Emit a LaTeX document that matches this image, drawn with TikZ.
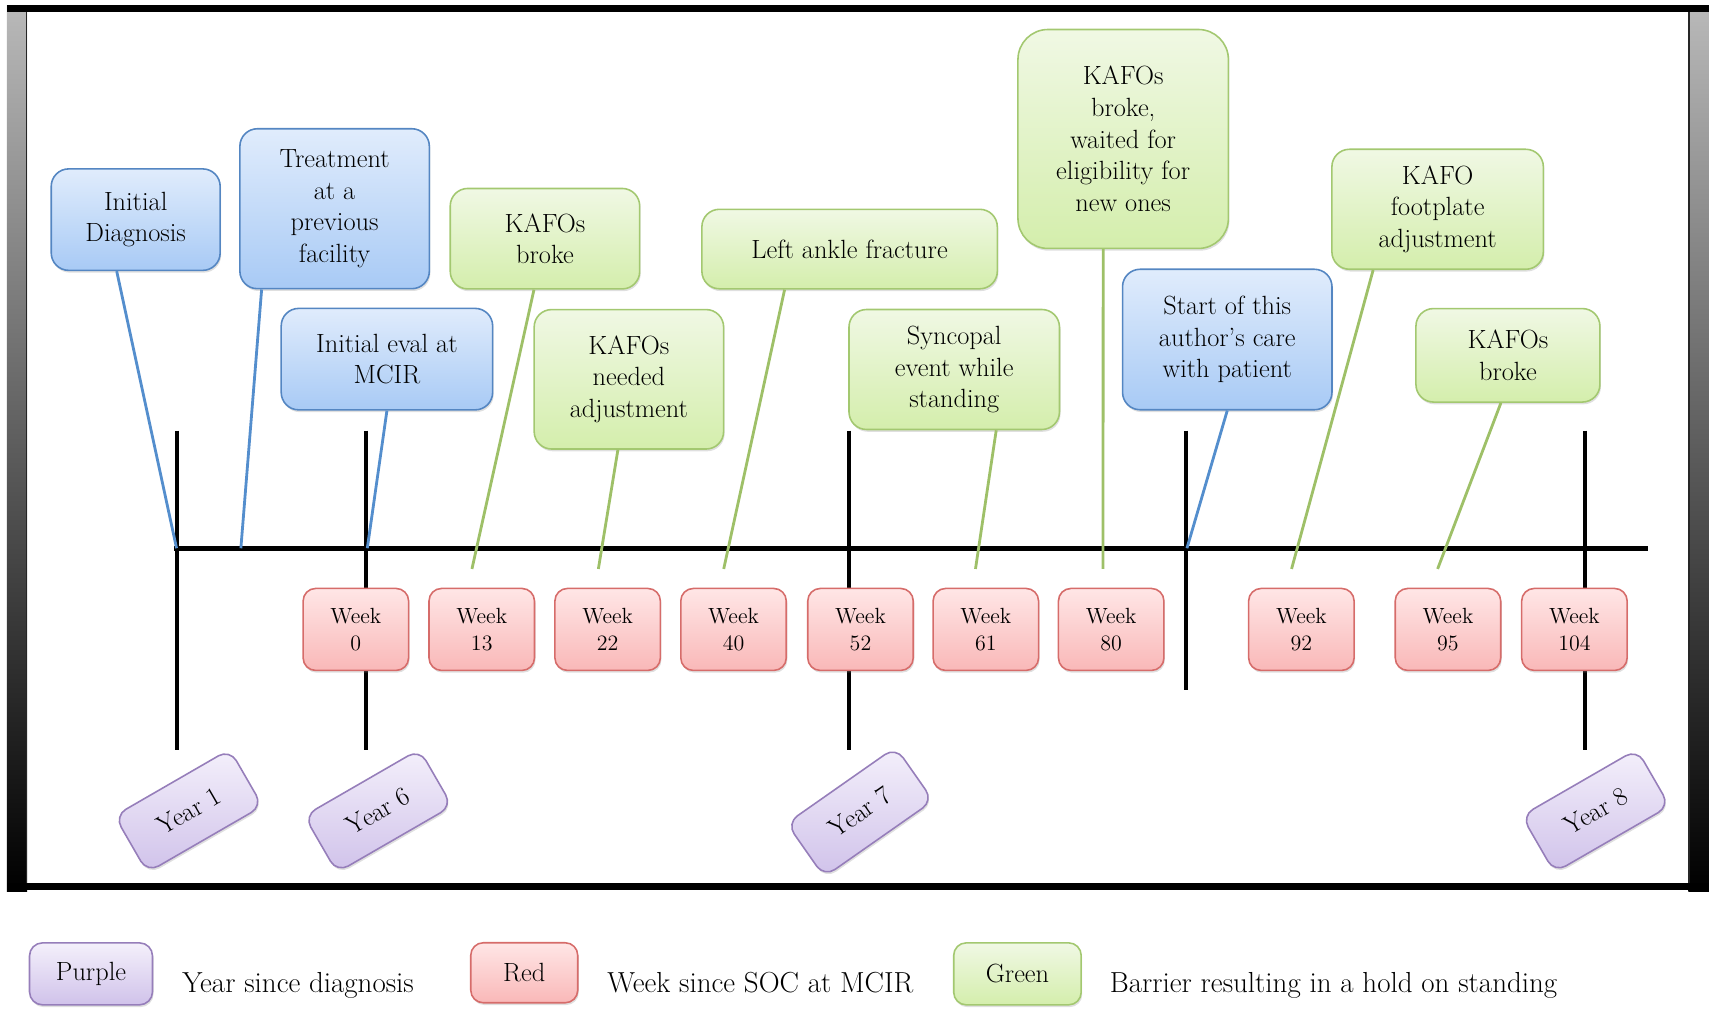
\documentclass[tikz,border=0pt]{standalone}
\usepackage{tikz}
\usetikzlibrary{shadows}

\definecolor{bluetop}{RGB}{224,236,252}
\definecolor{bluebot}{RGB}{168,202,245}
\definecolor{blueedge}{RGB}{84,134,194}
\definecolor{bluestem}{RGB}{84,142,205}
\definecolor{greentop}{RGB}{240,248,228}
\definecolor{greenbot}{RGB}{212,238,172}
\definecolor{greenedge}{RGB}{163,200,112}
\definecolor{greenstem}{RGB}{158,192,104}
\definecolor{redtop}{RGB}{255,230,230}
\definecolor{redbot}{RGB}{249,184,184}
\definecolor{rededge}{RGB}{214,108,106}
\definecolor{purpletop}{RGB}{244,240,251}
\definecolor{purplebot}{RGB}{208,194,234}
\definecolor{purpleedge}{RGB}{150,126,186}

\begin{document}
\begin{tikzpicture}[x=0.0218cm, y=-0.0218cm,
    box/.style={draw, line width=0.9pt, rounded corners=0.35cm, align=center, inner sep=2pt,
        font=\fontsize{15}{18}\selectfont,
        drop shadow={shadow xshift=0.6pt, shadow yshift=-1.3pt, opacity=0.25}},
    bluebox/.style={box, draw=blueedge, top color=bluetop, bottom color=bluebot},
    greenbox/.style={box, draw=greenedge, top color=greentop, bottom color=greenbot},
    weekbox/.style={box, draw=rededge, top color=redtop, bottom color=redbot, rounded corners=0.25cm,
        minimum width=2.11cm, minimum height=1.64cm, font=\fontsize{12.5}{15.5}\selectfont},
    yearbox/.style={box, draw=purpleedge, top color=purpletop, bottom color=purplebot, rounded corners=0.26cm,
        minimum width=2.66cm, minimum height=1.31cm},
    legendtext/.style={anchor=base west, inner sep=0pt, font=\fontsize{16.5}{19}\selectfont},
    bluepin/.style={draw=bluestem, line width=1.6pt},
    greenpin/.style={draw=greenstem, line width=1.6pt},
    timeline/.style={line width=2.9pt},
    yearmark/.style={line width=2.2pt}]
        \useasboundingbox (0,0) rectangle (1568,925);
        \shade[top color=gray!55, bottom color=black] (6.4,4.6) rectangle (24.8,818);
        \shade[top color=gray!55, bottom color=black] (1549,4.6) rectangle (1568,818);
        \draw[line width=1pt, black!85] (24.3,8) -- (24.3,814);
        \draw[line width=1pt, black!85] (1549.5,8) -- (1549.5,814);
        \fill[black] (6.4,4.6) rectangle (1568,11);
        \fill[black] (6.4,810) rectangle (1568,817);
        \draw[yearmark] (162,395) -- (162,688);
        \draw[yearmark] (336,395) -- (336,688);
        \draw[yearmark] (779,395) -- (779,688);
        \draw[yearmark] (1088,395) -- (1088,633);
        \draw[yearmark] (1454,395) -- (1454,688);
        \draw[timeline] (160,503) -- (1512,503);
        \node[bluebox, minimum width=3.38cm, minimum height=2.03cm] (diag) at (124.5,201.5) {Initial\\Diagnosis};
        \node[bluebox, minimum width=3.79cm, minimum height=3.20cm] (treat) at (307,191.5) {Treatment\\at a\\previous\\facility};
        \node[bluebox, minimum width=4.23cm, minimum height=2.03cm] (eval) at (355,329.5) {Initial eval at\\MCIR};
        \node[bluebox, minimum width=4.19cm, minimum height=2.81cm] (care) at (1126,311.5) {Start of this\\author’s care\\with patient};
        \node[greenbox, minimum width=3.79cm, minimum height=2.01cm] (brk1) at (500,219) {KAFOs\\broke};
        \node[greenbox, minimum width=3.79cm, minimum height=2.79cm] (adj) at (577,348) {KAFOs\\needed\\adjustment};
        \node[greenbox, minimum width=5.91cm, minimum height=1.59cm] (ankle) at (779.5,228.5) {Left ankle fracture};
        \node[greenbox, minimum width=4.21cm, minimum height=2.40cm] (sync) at (875.5,339) {Syncopal\\event while\\standing};
        \node[greenbox, minimum width=4.21cm, minimum height=4.38cm, rounded corners=0.6cm] (wait) at (1030.5,127.5) {KAFOs\\broke,\\waited for\\eligibility for\\new ones};
        \node[greenbox, minimum width=4.23cm, minimum height=2.40cm] (foot) at (1319,192) {KAFO\\footplate\\adjustment};
        \node[greenbox, minimum width=3.68cm, minimum height=1.87cm] (brk2) at (1383.5,326) {KAFOs\\broke};
        \node[weekbox] (w0) at (326.5,577.5) {Week\\0};
        \node[weekbox] (w13) at (442,577.5) {Week\\13};
        \node[weekbox] (w22) at (557.5,577.5) {Week\\22};
        \node[weekbox] (w40) at (673,577.5) {Week\\40};
        \node[weekbox] (w52) at (789.5,577.5) {Week\\52};
        \node[weekbox] (w61) at (904.5,577.5) {Week\\61};
        \node[weekbox] (w80) at (1019.5,577.5) {Week\\80};
        \node[weekbox] (w92) at (1194,577.5) {Week\\92};
        \node[weekbox] (w95) at (1328.5,577.5) {Week\\95};
        \node[weekbox] (w104) at (1444.5,577.5) {Week\\104};
        \node[yearbox, rotate=30] (y1) at (173,744) {Year 1};
        \node[yearbox, rotate=30] (y6) at (347,744) {Year 6};
        \node[yearbox, rotate=35] (y7) at (789,745) {Year 7};
        \node[yearbox, rotate=30] (y8) at (1464,744) {Year 8};
        \node[yearbox, minimum width=2.46cm, minimum height=1.24cm] (keyP) at (83.5,893.5) {Purple};
        \node[legendtext] (keyPt) at (167,911) {Year since diagnosis};
        \node[weekbox, minimum width=2.14cm, minimum height=1.2cm, font=\fontsize{15}{18}\selectfont] (keyR) at (481,892.5) {Red};
        \node[legendtext] (keyRt) at (557,911) {Week since SOC at MCIR};
        \node[greenbox, minimum width=2.55cm, minimum height=1.24cm, rounded corners=0.25cm] (keyG) at (933.5,893.5) {Green};
        \node[legendtext] (keyGt) at (1018,911) {Barrier resulting in a hold on standing};
        \coordinate (pDiag) at (162,503);
        \coordinate (pTreat) at (221,503);
        \coordinate (pEval) at (337,503);
        \coordinate (pCare) at (1089,503);
        \coordinate (pBrk1) at (433,522);
        \coordinate (pAdj) at (549,522);
        \coordinate (pAnkle) at (664,522);
        \coordinate (pSync) at (895,522);
        \coordinate (pWait) at (1012,522);
        \coordinate (pFoot) at (1185,522);
        \coordinate (pBrk2) at (1319,522);
        \draw[bluepin] ([xshift=-0.38cm]diag.south) -- (pDiag);
        \draw[bluepin] ([xshift=-1.46cm]treat.south) -- (pTreat);
        \draw[bluepin] (eval.south) -- (pEval);
        \draw[bluepin] (care.south) -- (pCare);
        \draw[greenpin] ([xshift=-0.22cm]brk1.south) -- (pBrk1);
        \draw[greenpin] ([xshift=-0.22cm]adj.south) -- (pAdj);
        \draw[greenpin] ([xshift=-1.30cm]ankle.south) -- (pAnkle);
        \draw[greenpin] ([xshift=0.84cm]sync.south) -- (pSync);
        \draw[greenpin] ([xshift=-0.40cm]wait.south) -- (pWait);
        \draw[greenpin] ([xshift=-1.29cm]foot.south) -- (pFoot);
        \draw[greenpin] ([xshift=-0.14cm]brk2.south) -- (pBrk2);
\end{tikzpicture}
\end{document}
